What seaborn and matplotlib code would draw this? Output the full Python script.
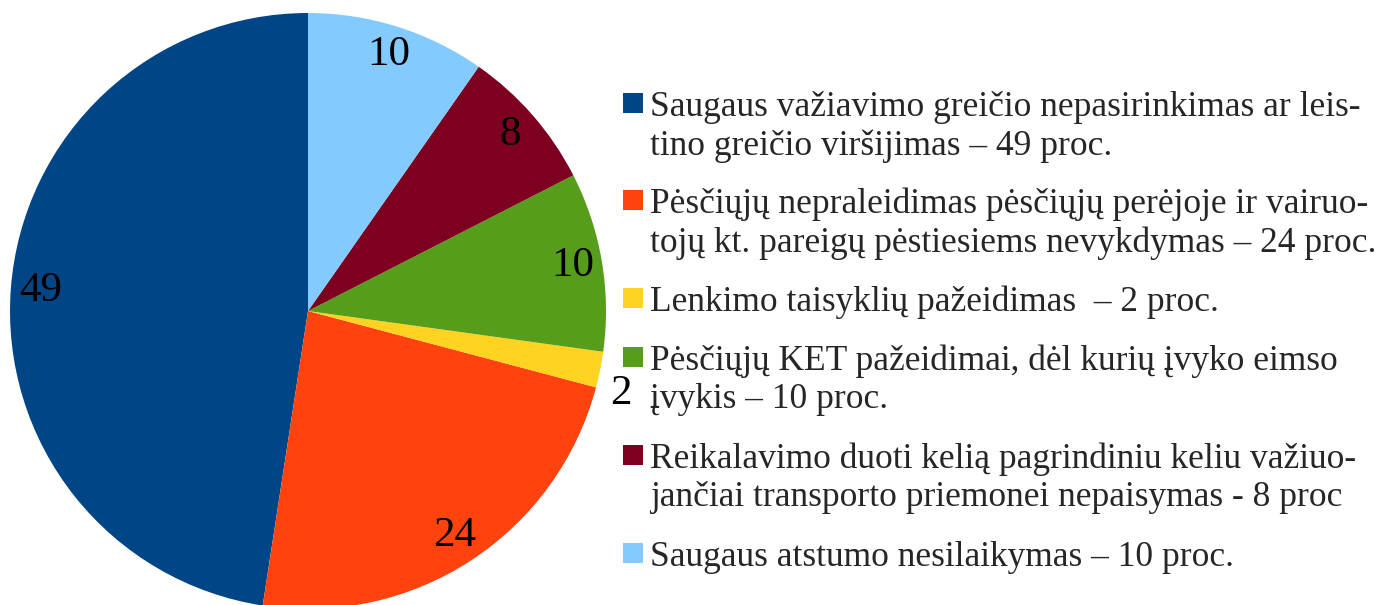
import matplotlib
matplotlib.use("Agg")
import matplotlib.pyplot as plt
import numpy as np
import seaborn as sns
from matplotlib.patches import Rectangle

# duomenys
categories = [
    "Saugaus važiavimo greičio nepasirinkimas ar leis-\ntino greičio viršijimas – 49 proc.",
    "Pėsčiųjų nepraleidimas pėsčiųjų perėjoje ir vairuo-\ntojų kt. pareigų pėstiesiems nevykdymas – 24 proc.",
    "Lenkimo taisyklių pažeidimas  – 2 proc.",
    "Pėsčiųjų KET pažeidimai, dėl kurių įvyko eimso\nįvykis – 10 proc.",
    "Reikalavimo duoti kelią pagrindiniu keliu važiuo-\njančiai transporto priemonei nepaisymas - 8 proc",
    "Saugaus atstumo nesilaikymas – 10 proc.",
]
values = [49, 24, 2, 10, 8, 10]
colors = ["#004586", "#ff420e", "#ffd320", "#579d1c", "#7e0021", "#83caff"]

sns.set_theme(style="white")
plt.rcParams["font.family"] = ["Liberation Serif", "DejaVu Serif"]

W, H = 1379, 605
fig = plt.figure(figsize=(W / 100, H / 100), dpi=100)

# pie axes (pixel layout)
cx, cy, r = 308, 311, 298
ax = fig.add_axes([(cx - r) / W, (H - cy - r) / H, 2 * r / W, 2 * r / H])
wedges, texts = ax.pie(
    values,
    colors=colors,
    startangle=90,
    counterclock=True,
    labels=[str(v) for v in values],
    labeldistance=0.9,
    textprops=dict(fontsize=31, color="black"),
    wedgeprops=dict(linewidth=0),
)
for t in texts:
    t.set_ha("center")
    t.set_va("center")

# small slice label sits outside the pie
w = wedges[2]
mid = np.deg2rad((w.theta1 + w.theta2) / 2 - 4)
texts[2].set_position((1.05 * np.cos(mid), 1.05 * np.sin(mid)))
texts[2].set_ha("left")

ax.set_xlim(-1, 1)
ax.set_ylim(-1, 1)
ax.set_aspect("equal")
ax.axis("off")

# legend drawn by hand so the marker lines up with the first text line
entry_y = [103, 200, 298, 357, 455, 553]
line_gap = 39
for lab, col, y0 in zip(categories, colors, entry_y):
    fig.patches.append(
        Rectangle(((623) / W, (H - y0 - 10) / H), 20 / W, 20 / H,
                  transform=fig.transFigure, facecolor=col, edgecolor="none")
    )
    for i, line in enumerate(lab.split("\n")):
        fig.text(650 / W, (H - y0 - i * line_gap) / H, line,
                 fontsize=25.5, ha="left", va="center_baseline")

fig.savefig("out.png", dpi=100)
